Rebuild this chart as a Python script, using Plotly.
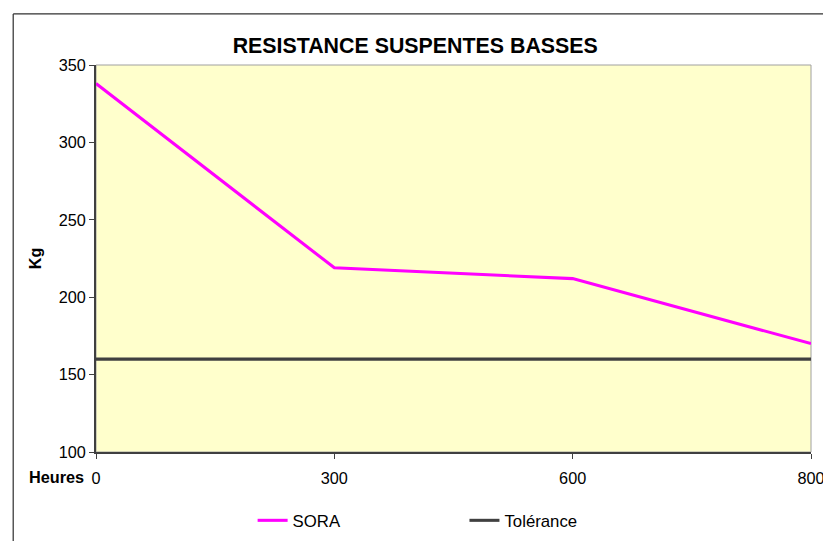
import plotly.graph_objects as go

categories = ["0", "300", "600", "800"]
sora = [338, 219, 212, 170]
tolerance = [160, 160, 160, 160]

S = 1.0173  # compensation for capture scaling
W, H = round(823 * S), round(541 * S)
L, R, T, B = 94 * S, 12 * S, 64 * S, 90 * S
pw, ph = W - L - R, H - T - B

def px(x):
    return (x * S - L) / pw

def py(y):
    return (H - B - y * S) / ph

def f(v):
    return v * S

FONT = "Liberation Sans, Arial, sans-serif"

fig = go.Figure()
fig.add_trace(go.Scatter(x=categories, y=sora, name="SORA", mode="lines",
                         line=dict(color="#FF00FF", width=f(3))))
fig.add_trace(go.Scatter(x=categories, y=tolerance, name="Tolérance", mode="lines",
                         line=dict(color="#404040", width=f(3))))

fig.update_layout(
    width=W, height=H,
    margin=dict(l=L, r=R, t=T, b=B, pad=0),
    paper_bgcolor="white",
    plot_bgcolor="#FFFFCC",
    font=dict(family=FONT, size=f(16), color="black"),
    title=dict(text="<b>RESISTANCE SUSPENTES BASSES</b>", xref="paper", x=px(414),
               xanchor="center", yref="container", y=1 - 45 * S / H, yanchor="middle",
               font=dict(size=f(21))),
    showlegend=True,
    legend=dict(orientation="h", x=px(251), xanchor="left", y=py(519), yanchor="middle",
                font=dict(size=f(16.5)), bgcolor="rgba(0,0,0,0)",
                entrywidth=f(164), entrywidthmode="pixels", borderwidth=0),
    xaxis=dict(type="category", range=[0, 3], showgrid=False, zeroline=False,
               showline=True, linecolor="#404040", linewidth=f(1.5),
               ticks="outside", ticklen=f(5), tickcolor="#404040",
               ticklabelstandoff=6,
               tickfont=dict(size=f(16)), fixedrange=True),
    yaxis=dict(range=[100, 350], dtick=50, showgrid=False, zeroline=False,
               showline=True, linecolor="#404040", linewidth=f(1.5),
               ticks="outside", ticklen=f(5), tickcolor="#404040",
               tickfont=dict(size=f(16)), fixedrange=True,
               title=dict(text="<b>Kg</b>", font=dict(size=f(16)), standoff=f(13))),
    shapes=[
        dict(type="rect", xref="paper", yref="paper", x0=0, x1=1, y0=0, y1=1,
             line=dict(color="#A0A0A0", width=1), layer="below"),
        dict(type="line", xref="paper", yref="paper",
             x0=px(11), x1=px(823), y0=py(13), y1=py(13),
             line=dict(color="#303030", width=f(1.2)), layer="above"),
        dict(type="line", xref="paper", yref="paper",
             x0=px(11), x1=px(11), y0=py(13), y1=py(541),
             line=dict(color="#303030", width=f(1.2)), layer="above"),
    ],
    annotations=[
        dict(text="<b>Heures</b>", xref="paper", yref="paper", x=px(84), y=py(476),
             xanchor="right", yanchor="middle", showarrow=False, font=dict(size=f(16))),
    ],
)

fig.write_html("out.html", config={"displayModeBar": False},
               post_script="document.body.style.margin='0';document.body.style.overflow='hidden';")
